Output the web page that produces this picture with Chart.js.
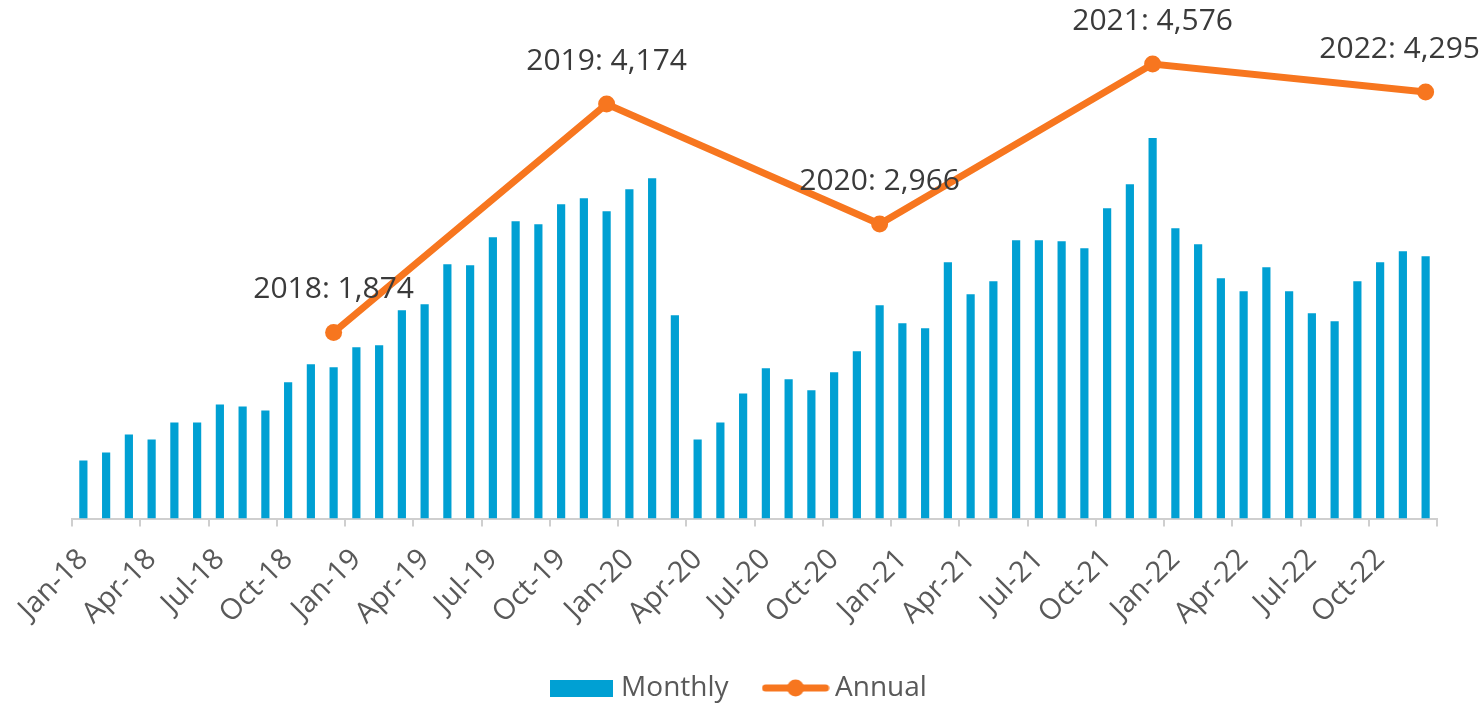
<!DOCTYPE html>
<html>
<head>
<meta charset="utf-8">
<script src="https://cdn.jsdelivr.net/npm/chart.js@4.4.1/dist/chart.umd.min.js"></script>
<style>
  html, body { margin: 0; padding: 0; background: #ffffff; }
  #wrap { width: 1483px; height: 705px; }
</style>
</head>
<body>
<div id="wrap"><canvas id="c" width="1483" height="705"></canvas></div>
<script>
// ---- data ----
const months = [
  'Jan-18','Feb-18','Mar-18','Apr-18','May-18','Jun-18','Jul-18','Aug-18','Sep-18','Oct-18','Nov-18','Dec-18',
  'Jan-19','Feb-19','Mar-19','Apr-19','May-19','Jun-19','Jul-19','Aug-19','Sep-19','Oct-19','Nov-19','Dec-19',
  'Jan-20','Feb-20','Mar-20','Apr-20','May-20','Jun-20','Jul-20','Aug-20','Sep-20','Oct-20','Nov-20','Dec-20',
  'Jan-21','Feb-21','Mar-21','Apr-21','May-21','Jun-21','Jul-21','Aug-21','Sep-21','Oct-21','Nov-21','Dec-21',
  'Jan-22','Feb-22','Mar-22','Apr-22','May-22','Jun-22','Jul-22','Aug-22','Sep-22','Oct-22','Nov-22','Dec-22'
];
const monthlyValues = [
  58, 66, 84, 79, 96, 96, 114, 112, 108, 136, 154, 151,
  171, 173, 208, 214, 254, 253, 281, 297, 294, 314, 320, 307,
  329, 340, 203, 79, 96, 125, 150, 139, 128, 146, 167, 213,
  195, 190, 256, 224, 237, 278, 278, 277, 270, 310, 334, 380,
  290, 274, 240, 227, 251, 227, 205, 197, 237, 256, 267, 262
];
const annualYears = ['2018', '2019', '2020', '2021', '2022'];
const annualMonths = ['Dec-18', 'Dec-19', 'Dec-20', 'Dec-21', 'Dec-22'];
const annualValues = [1874, 4174, 2966, 4576, 4295];
const tickEvery = 3;

// ---- styles ----
const BLUE = '#00A0D3';
const ORANGE = '#F7761F';
const FONT = '"Open Sans", "Noto Sans", sans-serif';
const AXIS_GREY = '#CFCFCF';

function legendIcon(kind) {
  const cv = document.createElement('canvas');
  if (kind === 'bar') {
    cv.width = 63; cv.height = 17;
    const g = cv.getContext('2d');
    g.fillStyle = BLUE;
    g.fillRect(0, 0, 63, 17);
  } else {
    cv.width = 68; cv.height = 18;
    const g = cv.getContext('2d');
    g.strokeStyle = ORANGE;
    g.lineWidth = 7;
    g.lineCap = 'round';
    g.beginPath(); g.moveTo(4, 9); g.lineTo(64, 9); g.stroke();
    g.fillStyle = ORANGE;
    g.beginPath(); g.arc(34, 9, 8.5, 0, Math.PI * 2); g.fill();
  }
  return cv;
}
const icons = [legendIcon('bar'), legendIcon('line')];

const annualLabelPlugin = {
  id: 'annualLabels',
  afterDatasetsDraw(chart) {
    const meta = chart.getDatasetMeta(1);
    const ctx = chart.ctx;
    ctx.save();
    ctx.font = '30px ' + FONT;
    ctx.fillStyle = '#3A3A3A';
    ctx.textAlign = 'center';
    ctx.textBaseline = 'alphabetic';
    meta.data.forEach((pt, i) => {
      const txt = annualYears[i] + ': ' + annualValues[i].toLocaleString('en-US');
      const w = ctx.measureText(txt).width;
      let x = pt.x;
      x = Math.min(x, chart.width - 3 - w / 2);
      x = Math.max(x, w / 2 + 3);
      ctx.fillText(txt, x, pt.y - 34);
    });
    ctx.restore();
  }
};

const hiddenAxis = (w, pos) => ({
  display: true,
  position: pos,
  afterFit(s) { s.width = w; },
  ticks: { display: false },
  grid: { display: false, drawTicks: false },
  border: { display: false }
});

new Chart(document.getElementById('c'), {
  data: {
    labels: months,
    datasets: [
      {
        type: 'bar',
        label: 'Monthly',
        data: monthlyValues,
        backgroundColor: BLUE,
        borderWidth: 0,
        barPercentage: 0.36,
        categoryPercentage: 1.0,
        yAxisID: 'y',
        order: 2
      },
      {
        type: 'line',
        label: 'Annual',
        data: annualMonths.map((m, i) => ({ x: m, y: annualValues[i] })),
        borderColor: ORANGE,
        backgroundColor: ORANGE,
        borderWidth: 7,
        pointRadius: 8.5,
        pointBackgroundColor: ORANGE,
        pointBorderWidth: 0,
        tension: 0,
        yAxisID: 'y2',
        order: 1
      }
    ]
  },
  options: {
    responsive: false,
    animation: false,
    layout: { padding: { left: 0, right: 0, top: 18, bottom: -7 } },
    scales: {
      x: {
        type: 'category',
        offset: true,
        afterFit(scale) { scale.height = 114; },
        grid: {
          offset: true,
          drawOnChartArea: false,
          drawTicks: true,
          tickLength: 8,
          lineWidth: 2,
          color: (c) => (c.index === undefined || c.index % tickEvery === 0) ? AXIS_GREY : 'rgba(0,0,0,0)',
          tickColor: (c) => (c.index === undefined || c.index % tickEvery === 0) ? AXIS_GREY : 'rgba(0,0,0,0)'
        },
        border: { display: true, color: AXIS_GREY, width: 2 },
        ticks: {
          autoSkip: false,
          minRotation: 45,
          maxRotation: 45,
          padding: 16,
          color: '#595959',
          font: { family: FONT, size: 29 },
          callback: (v, i) => (i % tickEvery === 0 ? months[i] : '')
        }
      },
      y: Object.assign(hiddenAxis(72, 'left'), { min: 0, max: 500 }),
      y2: Object.assign(hiddenAxis(46, 'right'), { min: 0, max: 5040 })
    },
    plugins: {
      legend: {
        position: 'bottom',
        labels: {
          usePointStyle: true,
          pointStyleWidth: 51,
          padding: 41.5,
          color: '#595959',
          font: { family: FONT, size: 28 },
          sort: (a, b) => a.datasetIndex - b.datasetIndex,
          generateLabels(chart) {
            const items = Chart.defaults.plugins.legend.labels.generateLabels(chart);
            items.forEach((it) => { it.pointStyle = icons[it.datasetIndex]; });
            return items;
          }
        }
      },
      tooltip: { enabled: false }
    }
  },
  plugins: [annualLabelPlugin]
});
</script>
</body>
</html>
